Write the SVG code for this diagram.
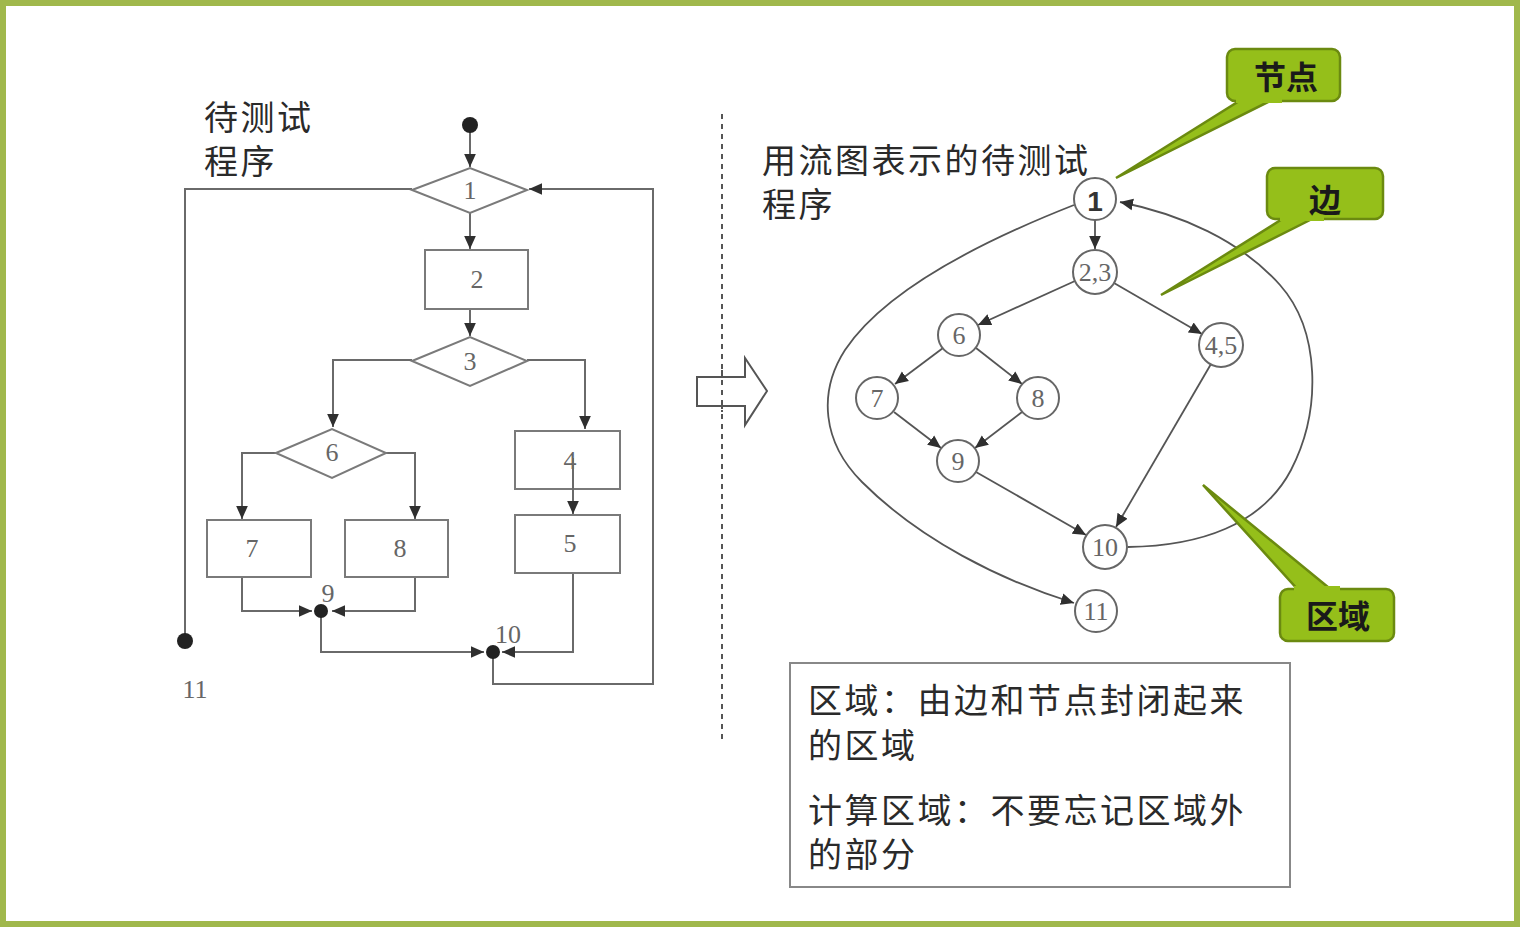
<svg xmlns="http://www.w3.org/2000/svg" width="1520" height="928" viewBox="0 0 1520 928">
<defs>
<style>
.cjk{font-family:"Liberation Sans","Noto Sans CJK SC",sans-serif;fill:#2a2a2a;font-size:34px;letter-spacing:2.5px}
.num{font-family:"Liberation Serif",serif;fill:#666;font-size:26px;text-anchor:middle}
.fl{fill:none;stroke:#6a6a6a;stroke-width:2}
.box{fill:#fff;stroke:#7a7a7a;stroke-width:2}
.edge{fill:none;stroke:#555;stroke-width:1.8}
.gn{fill:#fff;stroke:#666;stroke-width:2}
.co{fill:#95bf1a;stroke:#6b8a10;stroke-width:2.5}
.cot{font-family:"Noto Sans CJK SC",sans-serif;font-size:32px;font-weight:bold;fill:#1a1a1a;text-anchor:middle}
</style>
<marker id="a" viewBox="0 0 10 10" refX="10" refY="5" markerWidth="13" markerHeight="13" markerUnits="userSpaceOnUse" orient="auto">
<path d="M0,0.5 L10,5 L0,9.5 z" fill="#2f2f2f"/>
</marker>
</defs>
<rect x="0" y="0" width="1520" height="928" fill="#fff"/>
<rect x="3" y="3" width="1514" height="921" fill="none" stroke="#a0b84c" stroke-width="6"/>

<!-- left title -->
<text class="cjk" x="204" y="130">待测试<tspan x="204" y="174">程序</tspan></text>

<!-- left flowchart connectors -->
<g id="flow-connectors">
<line class="fl" x1="470" y1="125" x2="470" y2="167" marker-end="url(#a)"/>
<line class="fl" x1="470" y1="213" x2="470" y2="249" marker-end="url(#a)"/>
<line class="fl" x1="470" y1="310" x2="470" y2="336" marker-end="url(#a)"/>
<polyline class="fl" points="412,360 333,360 333,427" marker-end="url(#a)"/>
<polyline class="fl" points="527,360 585,360 585,429" marker-end="url(#a)"/>
<polyline class="fl" points="276,453 242,453 242,519" marker-end="url(#a)"/>
<polyline class="fl" points="386,453 415,453 415,519" marker-end="url(#a)"/>
<polyline class="fl" points="242,577 242,611 312,611" marker-end="url(#a)"/>
<polyline class="fl" points="415,577 415,611 332,611" marker-end="url(#a)"/>
<polyline class="fl" points="321,611 321,652 484,652" marker-end="url(#a)"/>
<polyline class="fl" points="573,573 573,652 502,652" marker-end="url(#a)"/>
<polyline class="fl" points="493,652 493,684 653,684 653,189 529,189" marker-end="url(#a)"/>
<polyline class="fl" points="412,189 185,189 185,640"/>
</g>

<g id="start"><circle cx="470" cy="125" r="8" fill="#222"/></g>
<g id="f1"><polygon class="box" points="412,190 470,168 527,190 470,213"/><text class="num" x="470" y="199">1</text></g>
<g id="f2"><rect class="box" x="425" y="250" width="103" height="59"/><text class="num" x="477" y="288">2</text></g>
<g id="f3"><polygon class="box" points="412,361 470,337 527,361 470,386"/><text class="num" x="470" y="370">3</text></g>
<g id="f6"><polygon class="box" points="276,453 332,429 386,453 332,478"/><text class="num" x="332" y="461">6</text></g>
<g id="f7"><rect class="box" x="207" y="520" width="104" height="57"/><text class="num" x="252" y="557">7</text></g>
<g id="f8"><rect class="box" x="345" y="520" width="103" height="57"/><text class="num" x="400" y="557">8</text></g>
<g id="f4"><rect class="box" x="515" y="431" width="105" height="58"/><text class="num" x="570" y="469">4</text></g>
<g id="f5"><rect class="box" x="515" y="515" width="105" height="58"/><text class="num" x="570" y="552">5</text></g>
<line class="fl" x1="573" y1="458" x2="573" y2="514" marker-end="url(#a)"/>
<g id="f9"><circle cx="321" cy="611" r="7" fill="#222"/><text class="num" font-size="22" x="328" y="602">9</text></g>
<g id="f10"><circle cx="493" cy="652" r="7" fill="#222"/><text class="num" font-size="22" x="508" y="643">10</text></g>
<g id="f11"><circle cx="185" cy="641" r="8" fill="#222"/><text class="num" font-size="22" x="195" y="698">11</text></g>

<!-- separator and arrow -->
<line x1="722" y1="114" x2="722" y2="740" stroke="#555" stroke-width="2" stroke-dasharray="5,5"/>
<polygon points="697,377 745,377 745,358 767,391 745,425 745,406 697,406" fill="#fff" stroke="#555" stroke-width="2"/>
<line x1="722" y1="370" x2="722" y2="412" stroke="#555" stroke-width="2" stroke-dasharray="5,5"/>

<!-- right title -->
<text class="cjk" x="762" y="173">用流图表示的待测试<tspan x="762" y="217">程序</tspan></text>

<!-- flow graph edges -->
<g id="graph-edges">
<line class="edge" x1="1095" y1="220" x2="1095" y2="249" marker-end="url(#a)"/>
<line class="edge" x1="1075" y1="281" x2="978" y2="325" marker-end="url(#a)"/>
<line class="edge" x1="1114" y1="283" x2="1202" y2="334" marker-end="url(#a)"/>
<line class="edge" x1="943" y1="348" x2="895" y2="384" marker-end="url(#a)"/>
<line class="edge" x1="976" y1="348" x2="1022" y2="384" marker-end="url(#a)"/>
<line class="edge" x1="894" y1="412" x2="941" y2="448" marker-end="url(#a)"/>
<line class="edge" x1="1022" y1="412" x2="975" y2="448" marker-end="url(#a)"/>
<line class="edge" x1="976" y1="472" x2="1086" y2="535" marker-end="url(#a)"/>
<line class="edge" x1="1211" y1="364" x2="1116" y2="527" marker-end="url(#a)"/>
<path class="edge" d="M1128,547 C1200,546 1262,525 1291,470 C1322,410 1320,330 1280,285 C1240,240 1180,214 1120,202" marker-end="url(#a)"/>
<path class="edge" d="M1074,205 C985,240 885,290 845,350 C818,392 822,442 862,482 C920,540 1000,580 1074,603" marker-end="url(#a)"/>
</g>

<g id="n1"><circle class="gn" cx="1095" cy="199" r="21"/><text x="1095" y="211" font-family="Liberation Sans,sans-serif" font-size="28" font-weight="bold" fill="#333" text-anchor="middle">1</text></g>
<g id="n23"><circle class="gn" cx="1095" cy="272" r="22"/><text class="num" font-size="24" x="1095" y="281">2,3</text></g>
<g id="n45"><circle class="gn" cx="1221" cy="345" r="22"/><text class="num" font-size="24" x="1221" y="354">4,5</text></g>
<g id="n6"><circle class="gn" cx="959" cy="335" r="21"/><text class="num" x="959" y="344">6</text></g>
<g id="n7"><circle class="gn" cx="877" cy="398" r="21"/><text class="num" x="877" y="407">7</text></g>
<g id="n8"><circle class="gn" cx="1038" cy="398" r="21"/><text class="num" x="1038" y="407">8</text></g>
<g id="n9"><circle class="gn" cx="958" cy="461" r="21"/><text class="num" x="958" y="470">9</text></g>
<g id="n10"><circle class="gn" cx="1105" cy="547" r="22"/><text class="num" x="1105" y="556">10</text></g>
<g id="n11"><circle class="gn" cx="1096" cy="611" r="21"/><text class="num" x="1096" y="620">11</text></g>

<!-- callouts -->
<g id="c-node">
<polygon class="co" points="1244,98 1276,98 1116,178"/>
<rect class="co" x="1227" y="49" width="113" height="52" rx="8"/>
<rect x="1236" y="95" width="46" height="8" fill="#95bf1a"/>
<text class="cot" x="1286" y="89">节点</text>
</g>
<g id="c-edge">
<polygon class="co" points="1287,216 1318,216 1161,295"/>
<rect class="co" x="1267" y="168" width="116" height="51" rx="8"/>
<rect x="1280" y="213" width="44" height="8" fill="#95bf1a"/>
<text class="cot" x="1325" y="212">边</text>
</g>
<g id="c-region">
<polygon class="co" points="1300,592 1334,592 1203,485"/>
<rect class="co" x="1280" y="589" width="114" height="52" rx="8"/>
<rect x="1294" y="586" width="46" height="8" fill="#95bf1a"/>
<text class="cot" x="1338" y="628">区域</text>
</g>

<!-- text box -->
<g id="note">
<rect x="790" y="663" width="500" height="224" fill="#fff" stroke="#888" stroke-width="2"/>
<text class="cjk" x="808" y="713">区域：由边和节点封闭起来<tspan x="808" y="758">的区域</tspan></text>
<text class="cjk" x="808" y="823">计算区域：不要忘记区域外<tspan x="808" y="867">的部分</tspan></text>
</g>
</svg>
